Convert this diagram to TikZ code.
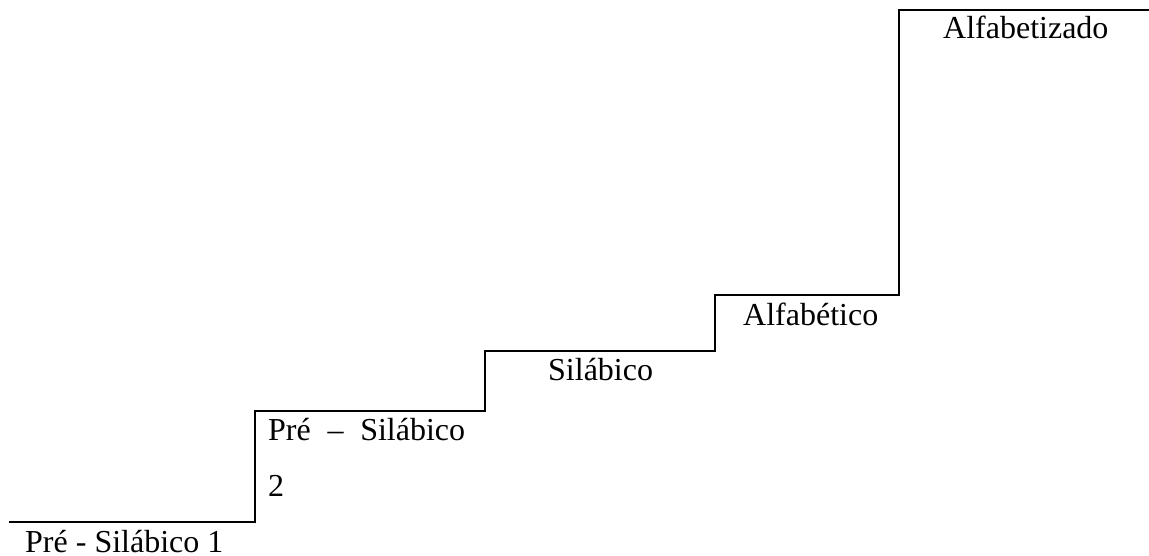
\documentclass[tikz,border=0pt]{standalone}
\usepackage{fontspec}
\setmainfont{Liberation Serif}
\begin{document}
\begin{tikzpicture}[x=1pt,y=-1pt,
  stair/.style={draw=black,line width=2pt,line join=miter,line cap=rect},
  lbl/.style={anchor=base west,inner sep=0pt,font=\fontsize{32}{38}\selectfont}]
\useasboundingbox (0,0) rectangle (1149,556);
% corners of the staircase
\coordinate (s0) at (10,522);
\coordinate (s1) at (255,522);
\coordinate (s2) at (255,411);
\coordinate (s3) at (485,411);
\coordinate (s4) at (485,351);
\coordinate (s5) at (715,351);
\coordinate (s6) at (715,295);
\coordinate (s7) at (899,295);
\coordinate (s8) at (899,10);
\coordinate (s9) at (1149,10);
\draw[stair] (s0) -- (s1) -- (s2) -- (s3) -- (s4) -- (s5) -- (s6) -- (s7) -- (s8) -- (s9);
% level names
\node[lbl,text depth=0pt] (n1) at (25,552) {Pré - Silábico 1};
\node[lbl] (n2a) at (268,440) {\makebox[197pt][s]{Pré – Silábico}};
\node[lbl] (n2b) at (268,496) {2};
\node[lbl] (n3) at (548,380) {Silábico};
\node[lbl] (n4) at (743,325) {Alfabético};
\node[lbl] (n5) at (943,39) {Alfabetizado};
\end{tikzpicture}
\end{document}
